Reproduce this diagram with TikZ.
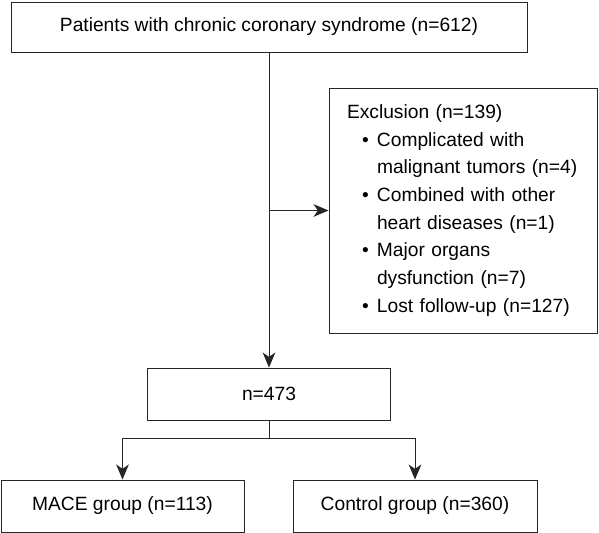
\documentclass[tikz,border=0pt]{standalone}
\usepackage{fontspec}
\setmainfont{Liberation Sans}
\usetikzlibrary{arrows.meta,positioning}
\tikzset{
  every node/.style={font=\fontsize{16.4}{23.6}\selectfont},
  stage/.style={
    rectangle,
    draw=black!85,
    line width=0.8pt,
    minimum height=1.56cm,
    align=center,
    inner sep=0pt,
    fill=white
  },
  flow/.style={draw=black!85,line width=0.8pt,-{Stealth[length=0.45cm,width=0.38cm,inset=0.13cm]}},
  link/.style={draw=black!85,line width=0.8pt}
}
\newcommand{\exitem}[2]{%
  \hspace*{0.45cm}\makebox[0.45cm][l]{\textbullet}#1\\
  \hspace*{0.9cm}#2}

\begin{document}
\begin{tikzpicture}
  \useasboundingbox (0,0) rectangle (17.97,15.99);

  % Etapas principais do fluxo.
  \node[stage,minimum width=15.48cm,minimum height=1.50cm] (patients) at (8.07,15.18)
    {Patients with chronic coronary syndrome (n=612)};
  \node[stage,minimum width=7.29cm] (included) at (8.07,4.17) {n=473};

  % Grupos finais.
  \node[stage,minimum width=7.29cm] (mace) at (3.675,0.81) {MACE group (n=113)};
  \node[stage,minimum width=7.32cm] (control) at (12.45,0.81) {Control group (n=360)};

  % Caixa de exclusão, texto alinhado à esquerda.
  \node[stage,minimum width=8.04cm,minimum height=7.35cm,text width=6.96cm,
    align=left] (exclusion) at (13.89,9.675)
    {Exclusion (n=139)\\
     \exitem{Complicated with}{malignant tumors (n=4)}\\
     \exitem{Combined with other}{heart diseases (n=1)}\\
     \exitem{Major organs}{dysfunction (n=7)}\\
     \hspace*{0.45cm}\makebox[0.45cm][l]{\textbullet}Lost follow-up (n=127)};

  % Conectores.
  \coordinate (split) at (patients.south |- exclusion.west);
  \draw[flow] (patients.south) -- (included.north);
  \draw[flow] (split) -- (exclusion.west);
  \draw[link] (included.south) -- ++(0,-0.54) coordinate (fork);
  \foreach \grp in {mace,control}
    \draw[flow] (fork) -| (\grp.north);
\end{tikzpicture}
\end{document}
